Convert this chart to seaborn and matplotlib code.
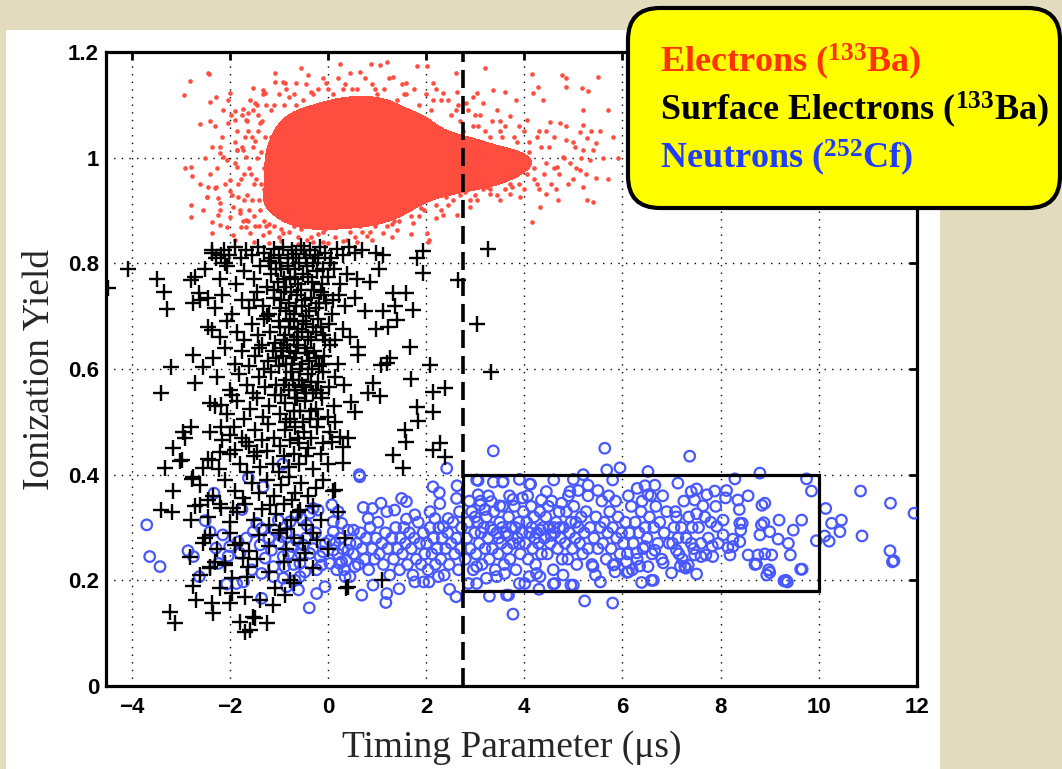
import matplotlib
matplotlib.use("Agg")
import matplotlib.pyplot as plt
import seaborn as sns
import numpy as np
from matplotlib.colors import ListedColormap
from matplotlib.patches import Rectangle, FancyBboxPatch
from matplotlib.transforms import IdentityTransform

# ---- data: (timing parameter [us], ionization yield) ----
electrons_core = [
    (-1.25, 0.91), (-1.18, 0.96), (-1.22, 1.01), (-1.12, 0.93), (-1.08, 0.99), (-1.15, 1.04),
    (-0.98, 0.89), (-0.95, 0.94), (-0.92, 0.98), (-0.88, 1.02), (-0.96, 1.06), (-0.85, 0.91), (-0.82, 0.96),
    (-0.72, 0.88), (-0.75, 0.93), (-0.68, 0.97), (-0.71, 1.00), (-0.66, 1.04), (-0.74, 1.08), (-0.62, 0.91),
    (-0.58, 0.95), (-0.55, 0.99), (-0.60, 1.02), (-0.52, 1.06), (-0.45, 0.87), (-0.42, 0.90), (-0.40, 0.94),
    (-0.47, 0.97), (-0.38, 1.00), (-0.44, 1.03), (-0.36, 1.07), (-0.41, 1.09), (-0.30, 0.92), (-0.27, 0.96),
    (-0.32, 0.99), (-0.25, 1.02), (-0.28, 1.05), (-0.22, 0.88), (-0.15, 0.90), (-0.12, 0.93), (-0.18, 0.97),
    (-0.10, 1.00), (-0.14, 1.04), (-0.08, 1.08), (-0.05, 0.95), (0.00, 0.98), (0.02, 1.02), (-0.02, 1.06),
    (0.04, 0.91), (0.06, 0.87), (0.05, 1.10), (0.12, 0.93), (0.15, 0.96), (0.10, 0.99), (0.17, 1.01),
    (0.13, 1.04), (0.19, 1.07), (0.22, 0.89), (0.25, 0.92), (0.28, 0.95), (0.24, 0.98), (0.30, 1.00),
    (0.27, 1.03), (0.32, 1.06), (0.29, 1.09), (0.38, 0.88), (0.40, 0.91), (0.43, 0.94), (0.37, 0.97),
    (0.45, 0.99), (0.41, 1.02), (0.47, 1.05), (0.44, 1.08), (0.42, 1.11), (0.52, 0.90), (0.55, 0.93),
    (0.58, 0.96), (0.53, 0.98), (0.60, 1.00), (0.56, 1.03), (0.62, 1.06), (0.57, 1.09), (0.64, 0.89),
    (0.70, 0.91), (0.73, 0.94), (0.68, 0.97), (0.75, 0.99), (0.71, 1.01), (0.77, 1.04), (0.72, 1.07),
    (0.79, 1.10), (0.80, 0.88), (0.86, 0.92), (0.89, 0.95), (0.84, 0.98), (0.91, 1.00), (0.87, 1.03),
    (0.93, 1.06), (0.88, 1.09), (0.95, 0.90), (1.02, 0.91), (1.05, 0.94), (1.00, 0.97), (1.07, 0.99),
    (1.03, 1.02), (1.09, 1.05), (1.04, 1.08), (1.10, 1.11), (1.12, 0.89), (1.18, 0.92), (1.21, 0.95),
    (1.16, 0.98), (1.23, 1.00), (1.19, 1.03), (1.25, 1.06), (1.20, 1.09), (1.28, 0.90), (1.35, 0.93),
    (1.38, 0.96), (1.33, 0.99), (1.40, 1.01), (1.36, 1.04), (1.42, 1.07), (1.45, 0.91), (1.52, 0.94),
    (1.55, 0.97), (1.50, 1.00), (1.57, 1.02), (1.53, 1.05), (1.59, 1.08), (1.62, 0.92), (1.70, 0.95),
    (1.73, 0.98), (1.68, 1.00), (1.75, 1.03), (1.71, 1.06), (1.78, 0.93), (1.86, 0.96), (1.89, 0.99),
    (1.84, 1.01), (1.91, 1.04), (1.93, 0.94), (1.88, 1.07), (2.02, 0.95), (2.05, 0.98), (2.00, 1.00),
    (2.07, 1.03), (2.10, 0.96), (2.04, 1.05), (2.20, 0.96), (2.23, 0.99), (2.18, 1.01), (2.26, 1.03),
    (2.28, 0.94), (2.38, 0.97), (2.41, 0.99), (2.36, 1.02), (2.44, 0.95), (2.47, 1.01), (2.56, 0.96),
    (2.60, 0.99), (2.55, 1.01), (2.63, 1.03), (2.68, 0.97), (2.78, 0.97), (2.82, 0.99), (2.76, 1.01),
    (2.86, 0.95), (2.90, 1.02), (3.00, 0.97), (3.04, 0.99), (2.98, 1.01), (3.08, 0.96), (3.20, 0.97),
    (3.24, 0.99), (3.18, 1.01), (3.30, 0.98), (3.42, 0.98), (3.46, 1.00), (3.40, 0.96), (3.55, 0.99),
    (3.65, 0.98), (3.70, 1.00), (3.80, 0.99), (3.95, 0.99),
]

electrons_outer = [
    (-2.44, 1.160), (-2.81, 1.146), (-2.93, 1.119), (-2.40, 1.106), (-2.27, 1.115), (-2.61, 1.063),
    (-2.40, 1.070), (-2.13, 1.090), (-2.03, 1.109), (-2.00, 1.122), (-2.03, 1.065), (-1.89, 1.071),
    (-1.89, 1.089), (-2.37, 1.020), (-2.20, 1.020), (-2.20, 1.008), (-2.91, 0.980), (-2.78, 0.983),
    (-2.76, 0.966), (-2.78, 0.910), (-2.78, 0.887), (-2.40, 0.970), (-2.44, 0.944), (-2.47, 0.926),
    (-2.30, 0.942), (-2.23, 0.923), (-2.20, 0.901), (-2.23, 0.892), (-2.37, 0.879), (-2.37, 0.857),
    (-2.20, 0.873), (-2.06, 0.869), (-2.00, 0.936), (-2.06, 0.996), (-1.86, 0.983), (-1.86, 1.015),
    (-1.72, 1.015), (-1.66, 1.002), (-1.83, 0.926), (-1.93, 0.907), (-1.79, 0.895), (-1.66, 0.882),
    (-1.76, 0.869), (-1.93, 0.854), (-1.59, 0.857), (-1.52, 1.132), (-1.32, 1.129), (-1.08, 1.160),
    (-1.08, 1.144), (-0.88, 1.141), (-1.49, 1.103), (-1.62, 1.050), (-1.49, 1.031), (-1.72, 1.093),
    (-1.62, 1.084), (-1.38, 1.065), (-2.42, 1.158), (-0.54, 1.169), (0.24, 1.178), (0.88, 1.177),
    (1.06, 1.175), (1.21, 1.182), (1.81, 1.174), (2.01, 1.174), (2.60, 1.160), (3.20, 1.169),
    (4.15, 1.158), (4.76, 1.157), (4.86, 1.150), (4.86, 1.133), (5.17, 1.132), (5.30, 1.127),
    (5.50, 1.153), (4.28, 1.133), (4.18, 1.122), (4.39, 1.110), (3.84, 1.109), (3.60, 1.125),
    (3.37, 1.128), (3.03, 1.122), (3.16, 1.103), (4.05, 1.071), (4.52, 1.068), (4.73, 1.065),
    (5.20, 1.062), (5.13, 1.049), (5.27, 1.037), (5.03, 1.021), (4.86, 1.034), (5.47, 1.027),
    (5.40, 1.015), (5.20, 1.015), (5.34, 0.996), (5.13, 0.977), (4.93, 0.989), (4.79, 1.002),
    (4.66, 0.983), (5.20, 0.945), (5.27, 0.920), (5.40, 0.917), (5.47, 0.961), (4.69, 0.920),
    (4.45, 0.932), (4.32, 0.907), (4.15, 0.879), (3.91, 0.926), (3.71, 0.932), (3.50, 0.920),
    (3.30, 0.932), (3.03, 0.920), (2.89, 0.907), (2.62, 0.892), (2.35, 0.892), (2.21, 0.885),
    (2.04, 0.841), (2.01, 0.857), (1.74, 0.876), (1.40, 0.863), (1.13, 0.857), (0.79, 0.851),
    (0.38, 0.844), (-0.10, 0.841), (-0.43, 0.844), (-0.91, 0.857), (-1.32, 0.854), (-1.66, 0.869),
    (-2.00, 0.888), (-2.20, 0.914), (-2.47, 0.926), (-2.27, 0.945), (-2.00, 0.958), (-2.13, 1.002),
    (-1.86, 1.015), (-1.66, 1.071), (-1.52, 1.090), (-1.28, 1.122), (-0.91, 1.144), (-0.64, 1.141),
    (-0.40, 1.157), (-0.03, 1.141), (0.45, 1.160), (0.65, 1.163), (1.33, 1.153), (1.60, 1.141),
    (2.14, 1.141), (2.35, 1.122), (2.62, 1.125), (2.82, 1.103), (2.96, 1.115), (3.44, 1.090),
    (3.71, 1.078), (-0.90, 1.10), (-0.70, 1.12), (-0.50, 1.11), (-0.20, 1.13), (0.10, 1.12),
    (0.35, 1.14), (0.60, 1.13), (0.90, 1.14), (1.15, 1.13), (1.40, 1.11), (1.60, 1.12), (1.85, 1.10),
    (2.10, 1.09), (2.30, 1.11), (2.50, 1.08), (2.70, 1.07), (2.95, 1.06), (3.20, 1.05), (3.50, 1.05),
    (3.80, 1.04), (4.10, 1.03), (4.30, 1.05), (4.50, 1.02), (-1.60, 0.90), (-1.40, 0.87), (-1.20, 0.86),
    (-1.00, 0.85), (-0.80, 0.86), (-0.60, 0.85), (-0.35, 0.85), (-0.10, 0.86), (0.15, 0.85), (0.45, 0.86),
    (0.70, 0.86), (0.95, 0.87), (1.20, 0.87), (1.45, 0.88), (1.70, 0.89), (1.95, 0.90), (2.20, 0.91),
    (2.45, 0.91), (2.70, 0.93), (3.00, 0.93), (3.30, 0.94), (3.60, 0.94), (3.90, 0.95), (4.20, 0.96),
    (4.40, 0.97), (4.60, 0.98), (-1.50, 0.95), (-1.45, 1.00), (-1.55, 1.04), (-1.40, 0.92), (-1.35, 1.07),
    (-1.70, 0.97), (-1.65, 0.93), (-1.75, 1.02), (-1.30, 0.98), (-1.45, 1.10), (-1.90, 0.845),
    (-1.50, 0.840), (-1.20, 0.838), (-0.95, 0.842), (-0.60, 0.836), (-0.30, 0.840), (0.00, 0.838),
    (0.30, 0.842), (0.60, 0.840), (0.90, 0.845), (1.30, 0.850), (1.70, 0.855), (2.05, 0.845),
    (-1.95, 0.93), (-1.90, 0.99), (-1.85, 1.05), (-1.80, 0.90), (-1.78, 0.96), (-1.74, 1.08),
    (-1.70, 0.92), (-1.68, 1.04), (-1.62, 0.88), (-1.60, 0.98), (-1.58, 1.11), (-1.55, 0.92),
    (-1.52, 1.02), (-1.48, 0.87), (-1.46, 0.96), (-1.42, 1.05), (-1.38, 0.90), (-1.36, 1.01),
    (-1.33, 1.12), (-1.30, 0.94), (-1.28, 1.04), (-1.26, 0.87), (-2.10, 0.95), (-2.15, 1.04),
    (-2.25, 0.98), (-1.98, 1.08), (-1.15, 1.09), (-1.00, 1.12), (-0.85, 1.13), (-0.65, 1.10),
    (-0.45, 1.14), (-0.30, 1.12), (-0.10, 1.15), (0.00, 1.13), (0.20, 1.15), (0.50, 1.13),
    (0.75, 1.15), (1.00, 1.12), (1.25, 1.15), (1.50, 1.14), (1.75, 1.13), (2.00, 1.12),
    (2.20, 1.13), (2.45, 1.11), (2.65, 1.10), (2.85, 1.09), (3.10, 1.08), (3.35, 1.07),
    (3.60, 1.06), (3.90, 1.06), (2.75, 1.05), (2.90, 0.92), (3.05, 1.06), (3.15, 0.94),
    (3.30, 1.04), (3.45, 0.93), (3.55, 1.04), (3.70, 0.95), (3.85, 1.03), (4.00, 0.94),
    (4.10, 1.01), (4.20, 0.98), (4.30, 0.94), (4.35, 1.02), (4.45, 0.99), (4.55, 0.95),
    (4.60, 1.04), (4.70, 0.97), (4.80, 1.00), (4.90, 0.95), (5.00, 1.03), (5.05, 0.98),
    (5.15, 1.00), (5.25, 0.97), (5.35, 1.05), (5.60, 1.00), (5.70, 0.96), (5.80, 1.04),
    (4.05, 0.97), (4.25, 1.04), (-1.10, 0.87), (-0.70, 0.87), (-0.20, 0.855), (0.25, 0.87),
    (0.55, 0.85), (0.85, 0.86), (1.05, 0.88), (1.35, 0.88), (1.60, 0.90), (1.85, 0.89),
    (2.30, 0.90), (2.55, 0.92), (-1.90, 1.03), (-1.83, 0.95), (-1.72, 0.88), (-1.64, 1.07),
    (-1.57, 0.97), (-1.50, 0.89), (-1.43, 1.08), (-1.37, 0.95), (-1.31, 0.88), (-1.27, 1.10),
    (-1.20, 0.875), (-1.10, 1.10), (-0.95, 0.865), (-0.80, 1.115), (-0.55, 0.865), (-0.35, 1.125),
    (-0.05, 0.865), (0.30, 1.13), (0.65, 0.87), (0.95, 1.13), (1.30, 0.875), (1.55, 1.12),
    (1.90, 0.905), (2.15, 1.11), (2.40, 0.925), (2.60, 1.09), (2.80, 0.935), (3.00, 1.08),
    (3.25, 0.945), (3.50, 1.07), (3.75, 0.945), (4.00, 1.05), (4.25, 0.95), (4.45, 1.05),
    (4.65, 0.94), (4.85, 1.06), (5.00, 0.96), (5.20, 1.09), (5.55, 1.05), (5.70, 1.09),
    (5.90, 1.00), (-2.50, 1.00), (-2.60, 0.95), (-2.30, 1.06), (-2.55, 0.90),
]

surface_electrons = [
    (-2.36, 0.820), (-2.28, 0.810), (-2.12, 0.825), (-2.02, 0.815), (-1.90, 0.830), (-1.78, 0.810),
    (-1.66, 0.825), (-1.55, 0.815), (-1.42, 0.830), (-1.30, 0.820), (-1.20, 0.805), (-1.10, 0.828),
    (-1.00, 0.815), (-0.92, 0.830), (-0.82, 0.810), (-0.74, 0.825), (-0.64, 0.818), (-0.55, 0.832),
    (-0.45, 0.810), (-0.36, 0.826), (-0.26, 0.815), (-0.16, 0.830), (-0.05, 0.820), (0.06, 0.810),
    (0.18, 0.828), (0.30, 0.815), (0.42, 0.830), (0.55, 0.820), (0.70, 0.825), (0.98, 0.820),
    (1.12, 0.815), (1.81, 0.810), (1.94, 0.824), (3.26, 0.828), (-2.50, 0.790), (-2.20, 0.770),
    (-2.05, 0.795), (-1.88, 0.760), (-1.70, 0.785), (-1.50, 0.770), (-1.38, 0.795), (-1.25, 0.755),
    (-1.15, 0.780), (-1.02, 0.765), (-0.95, 0.790), (-0.85, 0.755), (-0.78, 0.775), (-0.68, 0.790),
    (-0.60, 0.760), (-0.50, 0.780), (-0.42, 0.795), (-0.32, 0.765), (-0.22, 0.785), (-0.12, 0.760),
    (0.00, 0.775), (0.12, 0.790), (0.25, 0.760), (0.38, 0.780), (0.60, 0.770), (0.85, 0.765),
    (1.05, 0.790), (1.94, 0.781), (2.65, 0.768), (-4.48, 0.753), (-4.07, 0.790), (-3.49, 0.770),
    (-3.34, 0.746), (-3.27, 0.713), (-2.78, 0.768), (-2.71, 0.775), (-2.62, 0.743), (-2.74, 0.724),
    (-2.44, 0.734), (-2.37, 0.825), (-2.17, 0.816), (-2.10, 0.800), (-2.60, 0.730), (-2.30, 0.715),
    (-2.15, 0.740), (-1.95, 0.705), (-1.75, 0.730), (-1.60, 0.715), (-1.45, 0.745), (-1.32, 0.720),
    (-1.20, 0.705), (-1.10, 0.735), (-0.98, 0.715), (-0.90, 0.745), (-0.80, 0.725), (-0.70, 0.705),
    (-0.62, 0.740), (-0.52, 0.720), (-0.44, 0.700), (-0.35, 0.735), (-0.25, 0.715), (-0.15, 0.745),
    (-0.04, 0.725), (0.08, 0.705), (0.22, 0.740), (0.35, 0.720), (0.55, 0.735), (0.75, 0.710),
    (1.33, 0.743), (1.60, 0.743), (1.13, 0.709), (1.36, 0.719), (1.74, 0.712), (-2.45, 0.680),
    (-2.20, 0.660), (-2.05, 0.690), (-1.85, 0.670), (-1.70, 0.655), (-1.55, 0.685), (-1.42, 0.665),
    (-1.30, 0.695), (-1.18, 0.670), (-1.08, 0.650), (-0.98, 0.680), (-0.88, 0.665), (-0.78, 0.695),
    (-0.70, 0.655), (-0.60, 0.675), (-0.50, 0.690), (-0.40, 0.660), (-0.30, 0.680), (-0.20, 0.695),
    (-0.10, 0.665), (0.02, 0.685), (0.15, 0.655), (0.30, 0.675), (-2.37, 0.674), (1.40, 0.693),
    (1.23, 0.679), (0.99, 0.675), (0.45, 0.661), (3.03, 0.686), (-2.35, 0.620), (-2.10, 0.640),
    (-1.90, 0.610), (-1.75, 0.635), (-1.60, 0.605), (-1.48, 0.625), (-1.35, 0.645), (-1.22, 0.615),
    (-1.12, 0.635), (-1.00, 0.605), (-0.92, 0.625), (-0.83, 0.645), (-0.74, 0.610), (-0.65, 0.630),
    (-0.56, 0.600), (-0.47, 0.640), (-0.38, 0.615), (-0.28, 0.635), (-0.18, 0.605), (-0.08, 0.625),
    (0.05, 0.645), (0.20, 0.610), (-2.74, 0.627), (-2.54, 0.604), (-3.20, 0.604), (0.62, 0.642),
    (0.62, 0.627), (1.67, 0.642), (1.26, 0.620), (1.20, 0.611), (1.09, 0.608), (2.08, 0.608),
    (3.33, 0.595), (-2.25, 0.585), (-2.00, 0.560), (-1.82, 0.590), (-1.65, 0.570), (-1.52, 0.555),
    (-1.40, 0.585), (-1.28, 0.565), (-1.16, 0.595), (-1.05, 0.570), (-0.95, 0.550), (-0.86, 0.580),
    (-0.76, 0.595), (-0.67, 0.560), (-0.58, 0.580), (-0.48, 0.565), (-0.40, 0.590), (-0.30, 0.555),
    (-0.20, 0.575), (-0.10, 0.595), (0.02, 0.565), (0.15, 0.585), (0.32, 0.570), (-2.71, 0.573),
    (-3.39, 0.555), (-1.96, 0.551), (1.70, 0.582), (2.14, 0.557), (2.38, 0.564), (0.92, 0.573),
    (1.06, 0.548), (0.82, 0.554), (-2.30, 0.530), (-2.05, 0.515), (-1.85, 0.540), (-1.70, 0.505),
    (-1.58, 0.525), (-1.45, 0.545), (-1.33, 0.510), (-1.20, 0.530), (-1.08, 0.550), (-0.97, 0.515),
    (-0.87, 0.535), (-0.77, 0.505), (-0.66, 0.545), (-0.56, 0.520), (-0.46, 0.540), (-0.36, 0.505),
    (-0.25, 0.525), (-0.12, 0.545), (0.00, 0.510), (0.12, 0.530), (-2.40, 0.535), (-2.17, 0.532),
    (1.81, 0.529), (2.14, 0.519), (1.84, 0.502), (0.48, 0.538), (0.55, 0.519), (0.14, 0.500),
    (-2.40, 0.480), (-2.15, 0.465), (-1.92, 0.490), (-1.75, 0.470), (-1.60, 0.455), (-1.48, 0.485),
    (-1.35, 0.465), (-1.22, 0.495), (-1.10, 0.470), (-0.98, 0.455), (-0.88, 0.485), (-0.78, 0.465),
    (-0.68, 0.490), (-0.58, 0.460), (-0.48, 0.480), (-0.35, 0.470), (-0.22, 0.490), (-0.10, 0.460),
    (0.05, 0.480), (0.40, 0.470), (-2.78, 0.491), (-2.91, 0.469), (-3.15, 0.450), (-2.95, 0.480),
    (-2.17, 0.491), (-2.00, 0.475), (1.57, 0.485), (1.60, 0.462), (2.28, 0.459), (0.24, 0.472),
    (0.08, 0.462), (0.31, 0.453), (-2.45, 0.430), (-2.22, 0.410), (-2.00, 0.440), (-1.80, 0.420),
    (-1.65, 0.405), (-1.50, 0.435), (-1.38, 0.415), (-1.25, 0.445), (-1.12, 0.420), (-1.00, 0.405),
    (-0.90, 0.435), (-0.80, 0.415), (-0.70, 0.440), (-0.58, 0.420), (-0.45, 0.435), (-0.30, 0.410),
    (-0.15, 0.440), (0.00, 0.420), (-2.98, 0.428), (-3.32, 0.412), (-3.01, 0.426), (-2.54, 0.412),
    (-2.37, 0.428), (-2.20, 0.443), (2.14, 0.447), (2.38, 0.434), (1.33, 0.437), (1.53, 0.412),
    (0.31, 0.422), (-1.89, 0.447), (-1.66, 0.462), (-1.45, 0.443), (-2.60, 0.380), (-2.35, 0.360),
    (-2.10, 0.390), (-1.90, 0.370), (-1.72, 0.355), (-1.55, 0.385), (-1.40, 0.365), (-1.25, 0.390),
    (-1.10, 0.360), (-0.95, 0.380), (-0.80, 0.395), (-0.68, 0.365), (-0.55, 0.385), (-0.40, 0.360),
    (-0.25, 0.375), (-0.10, 0.390), (0.10, 0.370), (0.14, 0.371), (-3.15, 0.370), (-2.74, 0.396),
    (-2.76, 0.391), (-3.39, 0.333), (-3.17, 0.330), (-2.70, 0.340), (-2.45, 0.320), (-2.20, 0.345),
    (-2.00, 0.310), (-1.85, 0.330), (-1.68, 0.345), (-1.50, 0.315), (-1.35, 0.335), (-1.20, 0.305),
    (-1.05, 0.325), (-0.90, 0.345), (-0.75, 0.315), (-0.60, 0.330), (-0.45, 0.305), (-0.30, 0.340),
    (-0.15, 0.315), (0.20, 0.330), (-2.61, 0.343), (-2.44, 0.352), (-2.17, 0.336), (-1.93, 0.336),
    (-1.18, 0.343), (-0.74, 0.352), (-0.57, 0.333), (-2.78, 0.314), (-2.50, 0.280), (-2.25, 0.260),
    (-2.00, 0.290), (-1.80, 0.270), (-1.60, 0.255), (-1.40, 0.285), (-1.20, 0.265), (-1.00, 0.290),
    (-0.85, 0.260), (-0.70, 0.280), (-0.50, 0.270), (-0.30, 0.290), (0.00, 0.260), (0.35, 0.280),
    (-2.54, 0.270), (-2.40, 0.286), (-1.89, 0.267), (-0.98, 0.295), (-0.84, 0.298), (-0.23, 0.276),
    (-2.40, 0.223), (-2.30, 0.235), (-2.10, 0.229), (-1.96, 0.204), (-1.65, 0.206), (-1.63, 0.225),
    (-1.45, 0.240), (-1.20, 0.215), (-0.90, 0.235), (-0.77, 0.200), (-0.57, 0.239), (-0.47, 0.251),
    (-0.30, 0.223), (1.10, 0.200), (-2.80, 0.245), (-2.60, 0.210), (-2.40, 0.226), (-2.10, 0.232),
    (-1.72, 0.242), (-3.22, 0.140), (-3.12, 0.120), (-2.75, 0.190), (-2.69, 0.163), (-2.36, 0.157),
    (-2.34, 0.138), (-2.20, 0.186), (-2.00, 0.157), (-1.96, 0.176), (-1.69, 0.168), (-1.79, 0.121),
    (-1.69, 0.102), (-1.59, 0.106), (-1.53, 0.131), (-1.48, 0.128), (-1.38, 0.163), (-1.24, 0.119),
    (-1.12, 0.153), (-1.08, 0.186), (-0.88, 0.172), (-0.70, 0.195), (0.41, 0.187), (0.37, 0.185),
    (-1.15, 0.810), (-1.05, 0.790), (-0.98, 0.800), (-0.90, 0.770), (-0.82, 0.795), (-0.72, 0.810),
    (-0.66, 0.770), (-0.58, 0.800), (-0.48, 0.825), (-0.40, 0.775), (-0.30, 0.800), (-0.20, 0.810),
    (-0.10, 0.790), (0.05, 0.800), (-1.10, 0.750), (-0.95, 0.730), (-0.86, 0.710), (-0.75, 0.745),
    (-0.65, 0.720), (-0.55, 0.750), (-0.47, 0.730), (-0.38, 0.710), (-0.28, 0.750), (-0.18, 0.725),
    (-0.08, 0.740), (0.10, 0.730), (-1.00, 0.690), (-0.90, 0.655), (-0.80, 0.680), (-0.70, 0.690),
    (-0.62, 0.660), (-0.52, 0.670), (-0.44, 0.685), (-0.34, 0.655), (-0.25, 0.670), (-0.15, 0.680),
    (-0.05, 0.655), (-1.05, 0.620), (-0.95, 0.640), (-0.86, 0.610), (-0.78, 0.635), (-0.70, 0.620),
    (-0.60, 0.645), (-0.52, 0.610), (-0.42, 0.630), (-0.33, 0.600), (-0.24, 0.620), (-0.12, 0.610),
    (-0.90, 0.570), (-0.80, 0.560), (-0.72, 0.580), (-0.62, 0.545), (-0.53, 0.570), (-0.44, 0.555),
    (-0.35, 0.575), (-0.25, 0.560), (-0.15, 0.555), (-0.85, 0.500), (-0.70, 0.520), (-0.50, 0.500),
    (-0.35, 0.520), (-0.20, 0.505), (-0.60, 0.470), (-0.40, 0.450), (-1.30, 0.600), (-1.40, 0.640),
    (-1.25, 0.700), (-1.50, 0.730),
]

neutrons = [
    (-3.69, 0.305), (-3.63, 0.245), (-3.42, 0.226), (-2.85, 0.256), (-2.74, 0.245), (-2.62, 0.207),
    (-2.50, 0.313), (-2.40, 0.292), (-2.32, 0.365), (-1.75, 0.334), (-1.62, 0.394), (-0.92, 0.420),
    (-1.32, 0.377), (-2.14, 0.286), (-2.28, 0.261), (-2.23, 0.232), (-2.03, 0.246), (-2.00, 0.264),
    (-1.83, 0.273), (-1.86, 0.194), (-2.06, 0.193), (-1.72, 0.197), (-1.55, 0.220), (-1.35, 0.213),
    (-1.52, 0.292), (-1.35, 0.298), (-1.45, 0.308), (-1.66, 0.280), (-1.79, 0.251), (-1.38, 0.267),
    (-1.28, 0.242), (-1.15, 0.257), (-1.11, 0.226), (-0.91, 0.245), (-0.88, 0.226), (-0.91, 0.204),
    (-0.84, 0.188), (-0.60, 0.182), (-0.38, 0.148), (-1.35, 0.166), (-0.74, 0.264), (-0.64, 0.276),
    (-0.50, 0.267), (-0.37, 0.251), (-0.23, 0.220), (-0.23, 0.175), (-0.06, 0.188), (-0.43, 0.305),
    (-0.20, 0.333), (0.08, 0.343), (0.21, 0.330), (0.11, 0.292), (0.11, 0.257), (0.28, 0.235),
    (0.35, 0.207), (0.04, 0.232), (-0.10, 0.254), (0.04, 0.276), (-1.01, 0.314), (-0.77, 0.311),
    (-0.94, 0.283), (-1.08, 0.295), (-0.64, 0.324), (-0.54, 0.317), (-0.37, 0.327), (-0.30, 0.336),
    (0.11, 0.311), (0.28, 0.308), (0.41, 0.295), (0.41, 0.257), (0.38, 0.238), (-0.16, 0.245),
    (-0.13, 0.229), (-0.47, 0.216), (-0.57, 0.207), (-0.67, 0.200), (-1.11, 0.207), (-0.57, 0.232),
    (-0.80, 0.25), (-0.70, 0.23), (-0.55, 0.25), (-0.45, 0.28), (-0.30, 0.26), (-0.25, 0.29),
    (-0.05, 0.27), (-1.00, 0.27), (-1.20, 0.28), (-0.85, 0.29), (0.15, 0.27), (0.20, 0.25),
    (0.25, 0.28), (0.30, 0.26), (0.33, 0.22), (0.45, 0.27), (0.18, 0.22), (0.64, 0.400),
    (2.14, 0.377), (2.27, 0.366), (2.63, 0.379), (2.62, 0.355), (1.50, 0.355), (1.60, 0.349),
    (1.08, 0.346), (0.72, 0.338), (0.91, 0.336), (2.28, 0.345), (2.08, 0.330), (1.77, 0.324),
    (1.60, 0.316), (1.36, 0.333), (1.20, 0.330), (0.82, 0.317), (0.52, 0.295), (2.18, 0.317),
    (2.45, 0.317), (2.35, 0.302), (0.69, 0.172), (1.20, 0.175), (1.18, 0.158), (1.45, 0.184),
    (0.92, 0.191), (1.77, 0.197), (1.95, 0.197), (2.06, 0.197), (2.25, 0.207), (2.48, 0.183),
    (2.61, 0.169), (0.24, 0.232), (0.45, 0.207), (0.55, 0.226), (2.42, 0.412), (0.65, 0.396),
    (0.52, 0.25), (0.58, 0.27), (0.62, 0.23), (0.66, 0.29), (0.70, 0.26), (0.75, 0.24), (0.78, 0.28),
    (0.83, 0.22), (0.86, 0.30), (0.90, 0.26), (0.95, 0.24), (0.98, 0.28), (1.02, 0.31), (1.05, 0.25),
    (1.10, 0.27), (1.13, 0.23), (1.17, 0.29), (1.22, 0.26), (1.26, 0.21), (1.30, 0.28), (1.34, 0.24),
    (1.38, 0.30), (1.42, 0.26), (1.46, 0.22), (1.48, 0.28), (1.52, 0.25), (1.55, 0.30), (1.58, 0.27),
    (1.62, 0.23), (1.66, 0.29), (1.70, 0.26), (1.73, 0.21), (1.76, 0.28), (1.80, 0.24), (1.84, 0.31),
    (1.87, 0.27), (1.90, 0.23), (1.94, 0.29), (1.97, 0.25), (2.01, 0.27), (2.04, 0.22), (2.08, 0.30),
    (2.12, 0.25), (2.15, 0.28), (2.19, 0.23), (2.22, 0.26), (2.26, 0.30), (2.30, 0.24), (2.33, 0.28),
    (2.37, 0.21), (2.40, 0.26), (2.44, 0.29), (2.47, 0.23), (2.51, 0.27), (2.55, 0.31), (2.58, 0.25),
    (2.62, 0.28), (2.66, 0.22), (2.70, 0.26), (2.72, 0.30), (2.68, 0.33),
    (3.37, 0.445), (3.06, 0.389), (3.37, 0.386), (3.56, 0.386), (3.90, 0.391), (4.13, 0.382),
    (3.06, 0.362), (3.10, 0.343), (3.20, 0.334), (3.33, 0.349), (3.50, 0.341), (3.77, 0.353),
    (3.96, 0.356), (4.35, 0.352), (4.45, 0.368), (4.76, 0.346), (4.93, 0.368), (5.00, 0.391),
    (2.86, 0.194), (3.03, 0.194), (3.29, 0.170), (3.64, 0.172), (3.77, 0.136), (4.01, 0.194),
    (4.30, 0.183), (4.62, 0.194), (4.79, 0.210), (3.03, 0.226), (3.23, 0.204), (3.44, 0.207),
    (3.90, 0.194), (4.10, 0.207), (4.32, 0.207), (3.60, 0.213), (4.25, 0.213), (3.68, 0.172),
    (4.59, 0.193), (4.95, 0.191), (3.03, 0.390), (3.57, 0.387), (4.11, 0.382),
    (2.80, 0.24), (2.83, 0.28), (2.86, 0.31), (2.90, 0.26), (2.93, 0.33), (2.96, 0.22), (2.99, 0.29),
    (3.02, 0.25), (3.05, 0.31), (3.08, 0.27), (3.11, 0.35), (3.14, 0.23), (3.17, 0.30), (3.20, 0.26),
    (2.88, 0.35), (3.00, 0.32), (3.12, 0.29), (3.23, 0.32), (3.26, 0.28), (3.29, 0.24), (3.32, 0.30),
    (3.35, 0.26), (3.38, 0.33), (3.41, 0.22), (3.44, 0.29), (3.47, 0.25), (3.50, 0.31), (3.53, 0.27),
    (3.56, 0.34), (3.59, 0.23), (3.27, 0.36), (3.36, 0.295), (3.48, 0.28), (3.55, 0.30), (3.62, 0.29),
    (3.65, 0.26), (3.68, 0.32), (3.71, 0.24), (3.74, 0.30), (3.77, 0.27), (3.80, 0.34), (3.83, 0.22),
    (3.86, 0.28), (3.89, 0.31), (3.92, 0.25), (3.95, 0.29), (3.98, 0.33), (3.70, 0.36), (3.82, 0.30),
    (3.90, 0.27), (3.66, 0.285), (4.02, 0.27), (4.05, 0.31), (4.08, 0.24), (4.11, 0.29), (4.14, 0.34),
    (4.17, 0.26), (4.20, 0.32), (4.23, 0.23), (4.26, 0.29), (4.29, 0.27), (4.32, 0.33), (4.35, 0.25),
    (4.38, 0.30), (4.07, 0.36), (4.22, 0.28), (4.33, 0.295), (4.15, 0.30), (4.41, 0.28), (4.44, 0.32),
    (4.47, 0.25), (4.50, 0.30), (4.53, 0.27), (4.56, 0.35), (4.59, 0.22), (4.62, 0.29), (4.65, 0.31),
    (4.68, 0.26), (4.71, 0.33), (4.74, 0.28), (4.77, 0.24), (4.49, 0.34), (4.60, 0.30), (4.72, 0.30),
    (4.55, 0.285), (4.80, 0.30), (4.83, 0.27), (4.86, 0.33), (4.89, 0.24), (4.92, 0.29), (4.95, 0.31),
    (4.98, 0.26), (5.01, 0.34), (5.04, 0.28), (5.07, 0.23), (5.10, 0.30), (5.13, 0.27), (5.16, 0.32),
    (5.19, 0.25), (4.90, 0.36), (5.05, 0.31), (5.22, 0.29), (5.26, 0.33), (5.30, 0.26), (5.34, 0.30),
    (5.38, 0.23), (5.42, 0.28), (5.46, 0.32), (5.50, 0.26), (5.55, 0.30), (5.58, 0.35), (5.30, 0.36),
    (5.45, 0.21), (5.10, 0.37), (5.30, 0.38), (5.50, 0.37), (5.20, 0.40), (5.80, 0.39), (4.60, 0.39),
    (5.60, 0.27), (5.63, 0.31), (5.67, 0.24), (5.70, 0.29), (5.74, 0.33), (5.77, 0.26), (5.80, 0.30),
    (5.84, 0.23), (5.88, 0.28), (5.91, 0.32), (5.95, 0.25), (5.98, 0.29), (5.72, 0.36), (5.86, 0.35),
    (6.02, 0.27), (6.06, 0.31), (6.10, 0.25), (6.14, 0.29), (6.18, 0.34), (6.22, 0.27), (6.26, 0.31),
    (6.30, 0.24), (6.34, 0.29), (6.38, 0.33), (6.42, 0.26), (6.46, 0.30), (6.12, 0.36), (6.40, 0.35),
    (6.20, 0.22), (6.50, 0.28), (6.55, 0.32), (6.60, 0.25), (6.64, 0.30), (6.68, 0.34), (6.72, 0.27),
    (6.76, 0.31), (6.80, 0.24), (6.85, 0.29), (6.90, 0.33), (6.95, 0.27), (6.58, 0.36), (6.82, 0.36),
    (7.02, 0.27), (7.08, 0.33), (7.15, 0.25), (7.20, 0.30), (7.25, 0.35), (7.30, 0.28), (7.35, 0.32),
    (7.42, 0.30), (7.22, 0.24), (7.55, 0.30), (7.60, 0.27), (7.68, 0.32), (7.75, 0.28), (7.80, 0.31),
    (7.90, 0.34), (7.95, 0.27),
    (10.85, 0.369), (11.46, 0.346), (11.94, 0.327), (10.88, 0.284), (11.45, 0.256), (11.53, 0.237),
    (10.14, 0.336), (10.26, 0.308), (10.46, 0.314), (10.43, 0.292), (10.12, 0.284), (10.21, 0.274),
    (9.95, 0.275), (9.85, 0.369), (9.75, 0.392), (8.80, 0.403), (9.65, 0.314), (9.48, 0.295),
    (9.38, 0.270), (9.42, 0.248), (9.66, 0.221), (9.33, 0.200), (9.36, 0.197), (9.19, 0.314),
    (9.17, 0.278), (9.00, 0.292), (8.98, 0.220), (9.00, 0.215), (8.90, 0.346), (8.84, 0.342),
    (8.88, 0.309), (8.80, 0.286), (8.83, 0.305), (8.73, 0.231), (8.76, 0.248), (8.90, 0.250),
    (9.04, 0.248), (8.56, 0.248), (8.56, 0.360), (8.29, 0.392), (8.39, 0.308), (8.44, 0.308),
    (8.41, 0.295), (8.39, 0.273), (8.38, 0.334), (8.35, 0.352), (8.25, 0.278), (8.25, 0.264),
    (8.15, 0.262), (8.19, 0.248), (8.05, 0.286), (8.05, 0.314), (7.92, 0.302), (8.10, 0.356),
    (8.12, 0.370), (7.88, 0.369), (7.72, 0.362), (7.51, 0.373), (7.47, 0.352), (7.40, 0.368),
    (7.37, 0.435), (7.64, 0.341), (7.51, 0.326), (7.83, 0.265), (7.84, 0.245), (7.70, 0.248),
    (7.60, 0.245), (7.51, 0.212), (7.47, 0.248), (7.40, 0.270), (7.45, 0.260), (7.34, 0.229),
    (7.27, 0.226), (7.18, 0.227), (7.10, 0.257), (7.13, 0.280), (7.10, 0.320), (7.05, 0.300),
    (7.13, 0.384), (6.83, 0.233), (7.00, 0.214), (6.66, 0.380), (6.52, 0.406), (6.46, 0.379),
    (6.52, 0.362), (6.30, 0.374), (6.52, 0.226), (6.35, 0.227), (6.59, 0.200), (6.39, 0.196),
    (6.66, 0.257), (6.46, 0.264), (6.29, 0.252), (6.12, 0.216), (6.08, 0.235), (5.85, 0.216),
    (5.81, 0.229), (5.55, 0.197), (5.40, 0.226), (5.23, 0.161), (5.80, 0.157), (5.00, 0.191),
    (5.64, 0.450), (5.68, 0.409), (5.95, 0.413), (9.29, 0.199), (9.63, 0.221), (8.94, 0.210),
    (8.70, 0.230), (11.50, 0.235), (7.29, 0.223), (6.63, 0.200), (6.09, 0.215),
]

x_ticks = [-4, -2, 0, 2, 4, 6, 8, 10, 12]
y_ticks = [0, 0.2, 0.4, 0.6, 0.8, 1.0, 1.2]
y_tick_labels = ["0", "0.2", "0.4", "0.6", "0.8", "1", "1.2"]
cut_time = 2.75
box_t = (2.75, 10.0)
box_y = (0.18, 0.40)

legend_lines = [
    ("Electrons ($^{133}$Ba)", "#ff3300"),
    ("Surface Electrons ($^{133}$Ba)", "#000000"),
    ("Neutrons ($^{252}$Cf)", "#1f3cff"),
]

# ---- style ----
sns.set_style("white")
plt.rcParams["font.family"] = ["Liberation Sans", "DejaVu Sans"]
plt.rcParams["mathtext.fontset"] = "custom"
plt.rcParams["mathtext.rm"] = "Liberation Serif:bold"
plt.rcParams["mathtext.bf"] = "Liberation Serif:bold"
plt.rcParams["mathtext.it"] = "Liberation Serif:bold:italic"

red = "#ff4d40"
blue = "#4858ff"

fig = plt.figure(figsize=(10.62, 7.69), dpi=100)
fig.patch.set_facecolor("#e3dbbe")
fig.patches.append(Rectangle((6, 0), 934, 739, transform=IdentityTransform(),
                             facecolor="white", edgecolor="none", zorder=-5))

ax = fig.add_axes([106 / 1062, 83 / 769, 811 / 1062, 634 / 769])
ax.set_facecolor("white")
ax.set_zorder(1)

e_all = electrons_core + electrons_outer
e_t = [p[0] for p in e_all]
e_y = [p[1] for p in e_all]
c_t = [p[0] for p in electrons_core]
c_y = [p[1] for p in electrons_core]
s_t = [p[0] for p in surface_electrons]
s_y = [p[1] for p in surface_electrons]
n_t = [p[0] for p in neutrons]
n_y = [p[1] for p in neutrons]

# dense electron core drawn as its filled density region, individual events on top
sns.kdeplot(x=c_t, y=c_y, fill=True, levels=[0.1, 1.0], bw_adjust=0.75,
            cmap=ListedColormap([red, red]), ax=ax, zorder=2)
sns.scatterplot(x=e_t, y=e_y, ax=ax, color=red, s=11, linewidth=0, zorder=3)
sns.scatterplot(x=n_t, y=n_y, ax=ax, marker="o", facecolor="none", edgecolor=blue,
                s=58, linewidth=1.6, zorder=4)
sns.scatterplot(x=s_t, y=s_y, ax=ax, marker="+", color="black", s=125, linewidth=1.7, zorder=5)

ax.axvline(cut_time, color="black", lw=2.6, ls=(0, (5, 2.2)), zorder=6)
ax.add_patch(Rectangle((box_t[0], box_y[0]), box_t[1] - box_t[0], box_y[1] - box_y[0],
                       fill=False, edgecolor="black", lw=2.3, zorder=6))

ax.set_xlim(-4.52, 12)
ax.set_ylim(0, 1.2)
ax.set_xticks(x_ticks)
ax.set_yticks(y_ticks)
ax.set_yticklabels(y_tick_labels)
ax.grid(True, color="black", ls=(0, (1, 4.5)), lw=1.0)
ax.set_axisbelow(True)
for sp in ax.spines.values():
    sp.set_linewidth(2.3)
    sp.set_color("black")
ax.tick_params(direction="in", top=True, right=True, length=6, width=2,
               labelsize=16, colors="black")
ax.tick_params(axis="x", pad=8)
ax.tick_params(axis="y", pad=5)
for lab in ax.get_xticklabels() + ax.get_yticklabels():
    lab.set_fontweight("bold")

ax.set_xlabel("Timing Parameter (\u03bcs)", family="Liberation Serif", fontsize=27, labelpad=9)
ax.set_ylabel("Ionization Yield", family="Liberation Serif", fontsize=27, labelpad=8)

# legend box
fig.patches.append(FancyBboxPatch((628, 561), 432, 200, boxstyle="round,pad=0,rounding_size=32",
                                  transform=IdentityTransform(), facecolor="#ffff00",
                                  edgecolor="black", lw=3, zorder=10))
for i, (txt, col) in enumerate(legend_lines):
    fig.text(660 / 1062, 1 - (72 + 48 * i) / 769, txt, color=col, fontsize=26,
             family="Liberation Serif", fontweight="bold", va="baseline", ha="left", zorder=11)

fig.savefig("out.png", dpi=100, facecolor=fig.get_facecolor())
